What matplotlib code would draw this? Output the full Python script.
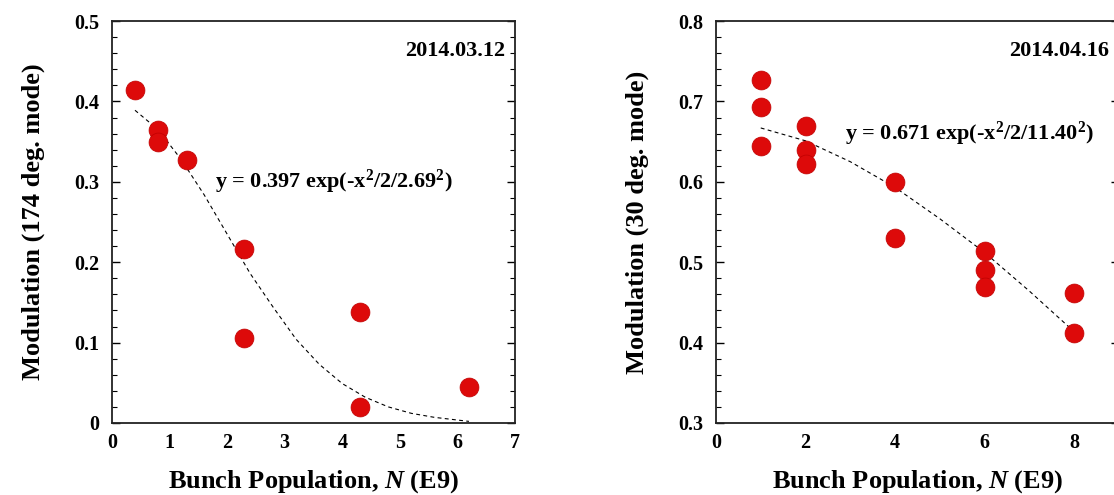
import matplotlib
matplotlib.use("Agg")
import matplotlib.pyplot as plt
from matplotlib.ticker import MultipleLocator

plt.rcParams['font.family'] = ['Liberation Serif', 'DejaVu Serif']
plt.rcParams['font.weight'] = 'bold'
plt.rcParams['mathtext.fontset'] = 'custom'
plt.rcParams['mathtext.rm'] = 'Liberation Serif:bold'
plt.rcParams['mathtext.bf'] = 'Liberation Serif:bold'
plt.rcParams['mathtext.it'] = 'Liberation Serif:bold:italic'

# left panel: 2014.03.12, 174 deg. mode
n_left = [0.4, 0.8, 0.8, 1.3, 2.3, 2.3, 4.3, 4.3, 6.2]
mod_left = [0.414, 0.365, 0.349, 0.327, 0.217, 0.106, 0.138, 0.020, 0.045]
fit_x_left = [0.4, 0.8, 1.2, 1.6, 2.0, 2.4, 2.8, 3.2, 3.6, 4.0, 4.4, 4.8, 5.2, 5.6, 6.2]
fit_y_left = [0.389, 0.365, 0.328, 0.284, 0.235, 0.186, 0.144, 0.104, 0.073,
              0.049, 0.032, 0.020, 0.012, 0.007, 0.002]
yticks_left = [0, 0.1, 0.2, 0.3, 0.4, 0.5]
yticklabels_left = ['0', '0.1', '0.2', '0.3', '0.4', '0.5']
xticks_left = [0, 1, 2, 3, 4, 5, 6, 7]

# right panel: 2014.04.16, 30 deg. mode
n_right = [1, 1, 1, 2, 2, 2, 4, 4, 6, 6, 6, 8, 8]
mod_right = [0.727, 0.693, 0.645, 0.670, 0.639, 0.622, 0.600, 0.530,
             0.514, 0.490, 0.469, 0.462, 0.412]
fit_x_right = [1, 2, 3, 4, 5, 6, 7, 7.95]
fit_y_right = [0.667, 0.651, 0.625, 0.593, 0.554, 0.512, 0.464, 0.416]
yticks_right = [0.3, 0.4, 0.5, 0.6, 0.7, 0.8]
yticklabels_right = ['0.3', '0.4', '0.5', '0.6', '0.7', '0.8']
xticks_right = [0, 2, 4, 6, 8]

red = '#dd0a0a'


def panel(ax, x, y, fx, fy, xlim, ylim, xticks, yticks, ylabels, ylabel, date, eq, eqpos):
    ax.plot(fx, fy, color='black', lw=0.8, ls=(0, (3.5, 3)), zorder=2)
    ax.scatter(x, y, s=185, color=red, edgecolors='#c00000', linewidths=0.5, zorder=3)
    ax.set_xlim(*xlim)
    ax.set_ylim(*ylim)
    ax.set_xticks(xticks)
    ax.set_xticklabels([str(t) for t in xticks])
    ax.set_yticks(yticks)
    ax.set_yticklabels(ylabels)
    ax.yaxis.set_minor_locator(MultipleLocator(0.02))
    ax.tick_params(axis='x', length=0, pad=7, labelsize=14.5)
    ax.tick_params(axis='y', which='major', direction='in', length=6, width=1,
                   left=True, right=True, pad=9, labelsize=14.5)
    ax.tick_params(axis='y', which='minor', direction='in', length=3.5, width=0.8,
                   left=True, right=True)
    for sp in ax.spines.values():
        sp.set_linewidth(1.3)
        sp.set_color('#222222')
    ax.set_xlabel('Bunch Population, $N$ (E9)', fontsize=19, fontweight='bold')
    ax.xaxis.set_label_coords(0.5, -0.112)
    ax.set_ylabel(ylabel, fontsize=19, fontweight='bold')
    ax.yaxis.set_label_coords(-0.165, 0.5)
    ax.text(0.975, 0.95, date, transform=ax.transAxes, ha='right', va='top',
            fontsize=16, fontweight='bold')
    ax.text(eqpos[0], eqpos[1], eq, transform=ax.transAxes, ha='left', va='center',
            fontsize=16, fontweight='bold')


fig = plt.figure(figsize=(11.14, 4.95), dpi=100)
ax1 = fig.add_axes([0.1005, 0.1455, 0.3618, 0.812])
ax2 = fig.add_axes([0.6427, 0.1455, 0.3618, 0.812])

panel(ax1, n_left, mod_left, fit_x_left, fit_y_left, (0, 7), (0, 0.5), xticks_left,
      yticks_left, yticklabels_left, 'Modulation (174 deg. mode)', '2014.03.12',
      'y = 0.397 exp(-x$^{2}$/2/2.69$^{2}$)', (0.255, 0.60))
panel(ax2, n_right, mod_right, fit_x_right, fit_y_right, (0, 9), (0.3, 0.8), xticks_right,
      yticks_right, yticklabels_right, 'Modulation (30 deg. mode)', '2014.04.16',
      'y = 0.671 exp(-x$^{2}$/2/11.40$^{2}$)', (0.32, 0.72))

fig.savefig('out.png', dpi=100)
